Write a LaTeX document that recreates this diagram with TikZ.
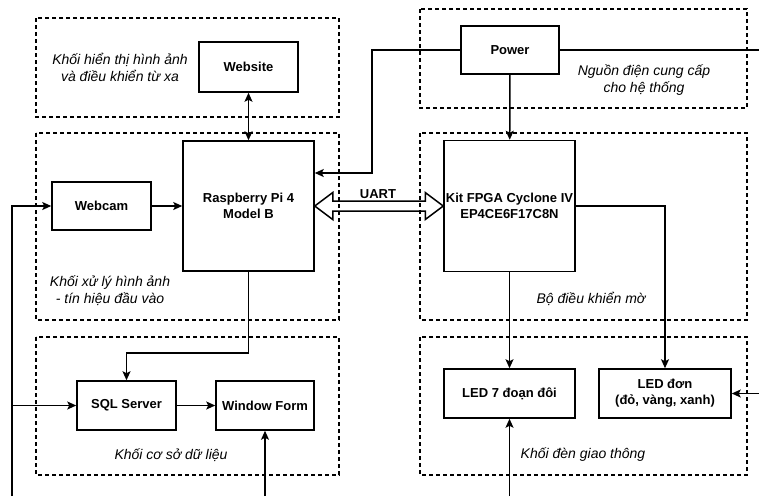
\documentclass[tikz,border=0pt]{standalone}
\usepackage{fontspec}
\setmainfont{Liberation Sans}
\usetikzlibrary{arrows.meta,calc}

\begin{document}
\begin{tikzpicture}[
    x=1pt, y=-1pt,
    blk/.style={rectangle, draw, line width=1.5pt, minimum width=#1, inner sep=0pt, align=center, font=\fontsize{13}{16}\selectfont\bfseries},
    grp/.style={draw, line width=1.3pt, dash pattern=on 4pt off 3pt},
    note/.style={align=center, inner sep=0pt, font=\fontsize{14}{17}\selectfont\itshape},
    conn/.style={-{Stealth[length=9pt, width=8pt, inset=2pt]}, line width=1.5pt},
    wire/.style={line width=1.5pt}
]
    \useasboundingbox (0,0) rectangle (759,496);

    % Các khối (nét đứt)
    \draw[grp] (36,18) rectangle (339,117);
    \draw[grp] (36,133) rectangle (339,320);
    \draw[grp] (36,337) rectangle (339,475);
    \draw[grp] (420,9) rectangle (747,108);
    \draw[grp] (420,133) rectangle (747,320);
    \draw[grp] (420,337) rectangle (747,475);

    % Thiết bị
    \node[blk=99, minimum height=50] (website) at (248.5,67) {Website};
    \node[blk=98, minimum height=48] (pwr) at (510,50) {Power};
    \node[blk=131, minimum height=130] (rpi) at (248.5,206) {Raspberry Pi 4\\Model B};
    \node[blk=131, minimum height=131] (fpga) at (509.5,206) {Kit FPGA Cyclone IV\\EP4CE6F17C8N};
    \node[blk=99, minimum height=48] (webcam) at (101.5,206) {Webcam};
    \node[blk=99, minimum height=49] (sql) at (126.5,405.5) {SQL Server};
    \node[blk=98, minimum height=49] (winform) at (265,405.5) {Window Form};
    \node[blk=131, minimum height=49] (led7) at (509.5,393.5) {LED 7 đoạn đôi};
    \node[blk=132, minimum height=49] (ledsingle) at (665,393.5) {LED đơn\\(đỏ, vàng, xanh)};

    % Chú thích các khối
    \node[note] (nweb) at (120,67.5) {Khối hiển thị hình ảnh\\và điều khiển từ xa};
    \node[note] (npwr) at (644,80) {Nguồn điện cung cấp\\cho hệ thống};
    \node[note] (nrpi) at (110,291) {Khối xử lý hình ảnh\\- tín hiệu đầu vào};
    \node[note] (nfpga) at (591,299) {Bộ điều khiển mờ};
    \node[note] (ndb) at (171,455) {Khối cơ sở dữ liệu};
    \node[note] (nled) at (583,455) {Khối đèn giao thông};
    \node[font=\fontsize{13}{16}\selectfont\bfseries, inner sep=0pt] (uart) at (378,194) {UART};

    % Điểm nối
    \coordinate (pwrbend) at (372,173);
    \coordinate (dbbend) at (248.5,353);
    \coordinate (pwrout) at (759,50);
    \coordinate (inleft) at (12,496);
    \coordinate (inwf) at (265,496);
    \coordinate (inled7) at (509.5,496);
    \coordinate (inled) at (759,393.5);

    % Kết nối
    \draw[conn, {Stealth[length=9pt, width=8pt, inset=2pt]}-{Stealth[length=9pt, width=8pt, inset=2pt]}] (website) -- (rpi);
    \draw[conn] (webcam) -- (rpi);
    \draw[conn] (pwr.west) -| (pwrbend) -- (rpi.east |- pwrbend);
    \draw[wire] (pwr.east) -- (pwrout);
    \draw[conn] (pwr) -- (fpga);
    \draw[line width=1.5pt, line join=miter] (rpi.east) -- ++(18,-13.5) -- ++(0,8.5) -- ($(fpga.west)+(-18,-5)$) -- ++(0,-8.5) -- (fpga.west)
        -- ++(-18,13.5) -- ++(0,-8.5) -- ($(rpi.east)+(18,5)$) -- ++(0,8.5) -- cycle;
    \draw[conn] (fpga.east) -| (ledsingle.north);
    \draw[conn] (fpga) -- (led7);
    \draw[conn] (rpi.south) -- (dbbend) -| (sql.north);
    \draw[conn] (sql) -- (winform);
    \draw[conn] (inleft) |- (webcam.west);
    \draw[conn] (inleft |- sql.west) -- (sql.west);
    \draw[conn] (inwf) -- (winform.south);
    \draw[conn] (inled7) -- (led7.south);
    \draw[conn] (inled) -- (ledsingle.east);

\end{tikzpicture}
\end{document}
